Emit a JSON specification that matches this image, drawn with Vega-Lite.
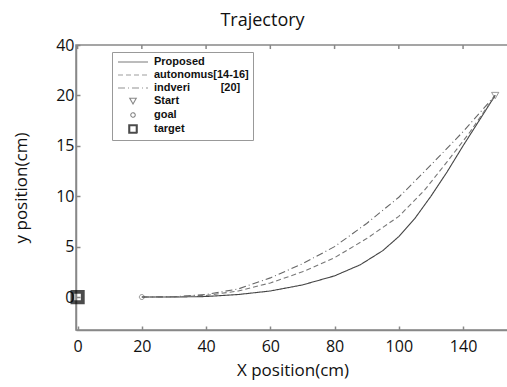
{
  "$schema": "https://vega.github.io/schema/vega-lite/v6.json",
  "autosize": "none",
  "width": 433,
  "height": 285,
  "padding": {"left": 76, "top": 45, "right": 0, "bottom": 57},
  "background": "white",
  "title": {"text": "Trajectory", "fontSize": 18, "font": "Open Sans", "fontWeight": "normal", "color": "#111", "anchor": "middle", "dx": -30, "offset": 7},
  "config": {
    "view": {"stroke": "#888", "strokeWidth": 1.5},
    "axis": {"domainColor": "#888", "domainWidth": 1.5, "tickColor": "#888", "tickSize": -4, "tickWidth": 1.5, "grid": false, "labelFont": "Open Sans", "labelFontSize": 16, "labelColor": "#111", "titleFont": "Open Sans", "titleFontSize": 17, "titleFontWeight": "normal", "titleColor": "#111"}
  },
  "datasets": {
    "paths": [
      {"series": "Proposed", "x": 20, "y": 0},
      {"series": "Proposed", "x": 30, "y": 0},
      {"series": "Proposed", "x": 40, "y": 0.05},
      {"series": "Proposed", "x": 50, "y": 0.25},
      {"series": "Proposed", "x": 60, "y": 0.6},
      {"series": "Proposed", "x": 70, "y": 1.2},
      {"series": "Proposed", "x": 80, "y": 2.1},
      {"series": "Proposed", "x": 88, "y": 3.2},
      {"series": "Proposed", "x": 95, "y": 4.6},
      {"series": "Proposed", "x": 100, "y": 6.0},
      {"series": "Proposed", "x": 105, "y": 7.8},
      {"series": "Proposed", "x": 110, "y": 10.0},
      {"series": "Proposed", "x": 115, "y": 12.4},
      {"series": "Proposed", "x": 120, "y": 15.0},
      {"series": "Proposed", "x": 125, "y": 17.5},
      {"series": "Proposed", "x": 130, "y": 20},
      {"series": "autonomus[14-16]", "x": 20, "y": 0},
      {"series": "autonomus[14-16]", "x": 30, "y": 0.02},
      {"series": "autonomus[14-16]", "x": 40, "y": 0.15},
      {"series": "autonomus[14-16]", "x": 50, "y": 0.6},
      {"series": "autonomus[14-16]", "x": 60, "y": 1.4},
      {"series": "autonomus[14-16]", "x": 70, "y": 2.5},
      {"series": "autonomus[14-16]", "x": 80, "y": 3.9},
      {"series": "autonomus[14-16]", "x": 90, "y": 5.8},
      {"series": "autonomus[14-16]", "x": 100, "y": 8.0},
      {"series": "autonomus[14-16]", "x": 108, "y": 10.6},
      {"series": "autonomus[14-16]", "x": 115, "y": 13.4},
      {"series": "autonomus[14-16]", "x": 122, "y": 16.3},
      {"series": "autonomus[14-16]", "x": 130, "y": 20},
      {"series": "indveri      [20]", "x": 20, "y": 0},
      {"series": "indveri      [20]", "x": 30, "y": 0.03},
      {"series": "indveri      [20]", "x": 40, "y": 0.25},
      {"series": "indveri      [20]", "x": 50, "y": 0.8},
      {"series": "indveri      [20]", "x": 60, "y": 1.9},
      {"series": "indveri      [20]", "x": 70, "y": 3.3},
      {"series": "indveri      [20]", "x": 80, "y": 5.0},
      {"series": "indveri      [20]", "x": 90, "y": 7.3},
      {"series": "indveri      [20]", "x": 100, "y": 9.9},
      {"series": "indveri      [20]", "x": 110, "y": 13.1},
      {"series": "indveri      [20]", "x": 120, "y": 16.4},
      {"series": "indveri      [20]", "x": 130, "y": 20}
    ],
    "markers": [
      {"series": "Start", "x": 130, "y": 20},
      {"series": "goal", "x": 20, "y": 0},
      {"series": "target", "x": 0, "y": 0}
    ],
    "topticks": [{"x": 0}, {"x": 20}, {"x": 40}, {"x": 60}, {"x": 80}, {"x": 100}, {"x": 120}]
  },
  "layer": [
    {
      "data": {"name": "paths"},
      "mark": {"type": "line", "strokeWidth": 1.1},
      "encoding": {
        "x": {"field": "x", "type": "quantitative", "scale": {"domain": [-0.5, 134.3], "nice": false, "zero": false},
          "axis": {"values": [0, 20, 40, 60, 80, 100, 120], "labelExpr": "datum.value == 120 ? '140' : datum.label", "title": "X position(cm)", "labelPadding": 12, "titlePadding": 8}},
        "y": {"field": "y", "type": "quantitative", "scale": {"domain": [-3.27, 25], "nice": false, "zero": false},
          "axis": {"values": [0, 5, 10, 15, 20, 25], "labelExpr": "datum.value == 25 ? '40' : datum.label", "title": "y position(cm)", "labelPadding": 6, "titlePadding": 25}},
        "strokeDash": {"field": "series", "type": "nominal", "scale": {"domain": ["Proposed", "autonomus[14-16]", "indveri      [20]", "Start", "goal", "target"], "range": [[1, 0], [5, 3], [7, 3, 1, 3], [1, 0], [1, 0], [1, 0]]}},
        "color": {"field": "series", "type": "nominal", "scale": {"domain": ["Proposed", "autonomus[14-16]", "indveri      [20]", "Start", "goal", "target"], "range": ["#444444", "#777777", "#666666", "#555555", "#555555", "#000000"]}}
      }
    },
    {
      "data": {"name": "markers"},
      "mark": {"type": "point", "filled": false},
      "encoding": {
        "x": {"field": "x", "type": "quantitative"},
        "y": {"field": "y", "type": "quantitative"},
        "shape": {"field": "series", "type": "nominal",
          "scale": {"domain": ["Proposed", "autonomus[14-16]", "indveri      [20]", "Start", "goal", "target"],
            "range": ["M-3,0H3", "M-3,0H3", "M-3,0H3", "M-0.65,-0.55L0.65,-0.55L0,0.6Z", "M0.45,0A0.45,0.45,0,1,1,-0.45,0A0.45,0.45,0,1,1,0.45,0Z", "M-0.85,-0.85H0.85V0.85H-0.85Z M-0.65,-0.65H0.65V0.65H-0.65Z M-0.75,-0.75H0.75V0.75H-0.75Z"]},
          "legend": {"orient": "none", "legendX": 36, "legendY": 7, "title": null, "strokeColor": "#999", "fillColor": "white", "padding": 4, "rowPadding": 2,
            "labelFont": "Liberation Sans", "labelFontWeight": "bold", "labelFontSize": 11, "labelColor": "#111", "symbolSize": 100, "symbolOffset": 11, "labelOffset": 15, "symbolStrokeWidth": 1.1,
            "labelExpr": "replace(datum.label, '      ', '\u00a0\u00a0\u00a0\u00a0\u00a0\u00a0\u00a0\u00a0\u00a0\u00a0')"}},
        "strokeDash": {"field": "series", "type": "nominal"},
        "color": {"field": "series", "type": "nominal"},
        "size": {"condition": {"test": "datum.series == 'target'", "value": 190}, "value": 120},
        "strokeWidth": {"condition": {"test": "datum.series == 'target'", "value": 2.5}, "value": 1}
      }
    },
    {
      "data": {"name": "topticks"},
      "mark": {"type": "rule", "color": "#888", "strokeWidth": 1.5},
      "encoding": {
        "x": {"field": "x", "type": "quantitative"},
        "y": {"datum": 25},
        "y2": {"datum": 24.6}
      }
    }
  ]
}
